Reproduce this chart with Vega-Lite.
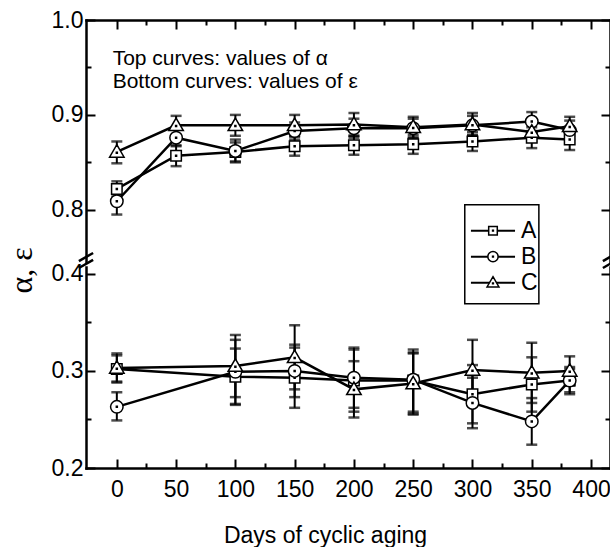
{
  "$schema": "https://vega.github.io/schema/vega-lite/v6.json",
  "background": "white",
  "padding": {"left": 5, "top": 9, "right": 0, "bottom": 0},
  "bounds": "flush",
  "spacing": 5,
  "config": {
    "view": {"stroke": null},
    "font": "Liberation Sans",
    "axis": {
      "domainColor": "black", "domainWidth": 2.5, "domainCap": "square",
      "tickColor": "black", "tickWidth": 2,
      "labelColor": "black", "labelFont": "Liberation Sans", "labelFontSize": 23,
      "grid": false, "titleColor": "black", "titleFontWeight": "normal",
      "labelOverlap": false, "labelFlush": false
    }
  },
  "datasets": {
    "alpha": [
      {"days": 0, "sample": "A", "v": 0.822, "lo": 0.814, "hi": 0.830},
      {"days": 50, "sample": "A", "v": 0.857, "lo": 0.846, "hi": 0.868},
      {"days": 100, "sample": "A", "v": 0.861, "lo": 0.851, "hi": 0.871},
      {"days": 150, "sample": "A", "v": 0.867, "lo": 0.857, "hi": 0.877},
      {"days": 200, "sample": "A", "v": 0.868, "lo": 0.858, "hi": 0.878},
      {"days": 250, "sample": "A", "v": 0.869, "lo": 0.859, "hi": 0.879},
      {"days": 300, "sample": "A", "v": 0.872, "lo": 0.862, "hi": 0.882},
      {"days": 350, "sample": "A", "v": 0.876, "lo": 0.865, "hi": 0.887},
      {"days": 382, "sample": "A", "v": 0.874, "lo": 0.863, "hi": 0.885},
      {"days": 0, "sample": "B", "v": 0.809, "lo": 0.795, "hi": 0.823},
      {"days": 50, "sample": "B", "v": 0.876, "lo": 0.867, "hi": 0.885},
      {"days": 100, "sample": "B", "v": 0.862, "lo": 0.850, "hi": 0.874},
      {"days": 150, "sample": "B", "v": 0.883, "lo": 0.874, "hi": 0.892},
      {"days": 200, "sample": "B", "v": 0.886, "lo": 0.876, "hi": 0.896},
      {"days": 250, "sample": "B", "v": 0.886, "lo": 0.876, "hi": 0.896},
      {"days": 300, "sample": "B", "v": 0.889, "lo": 0.879, "hi": 0.899},
      {"days": 350, "sample": "B", "v": 0.893, "lo": 0.883, "hi": 0.903},
      {"days": 382, "sample": "B", "v": 0.884, "lo": 0.874, "hi": 0.894},
      {"days": 0, "sample": "C", "v": 0.861, "lo": 0.849, "hi": 0.872},
      {"days": 50, "sample": "C", "v": 0.889, "lo": 0.879, "hi": 0.899},
      {"days": 100, "sample": "C", "v": 0.889, "lo": 0.878, "hi": 0.900},
      {"days": 150, "sample": "C", "v": 0.889, "lo": 0.878, "hi": 0.900},
      {"days": 200, "sample": "C", "v": 0.890, "lo": 0.878, "hi": 0.902},
      {"days": 250, "sample": "C", "v": 0.887, "lo": 0.876, "hi": 0.898},
      {"days": 300, "sample": "C", "v": 0.890, "lo": 0.878, "hi": 0.902},
      {"days": 350, "sample": "C", "v": 0.882, "lo": 0.872, "hi": 0.892},
      {"days": 382, "sample": "C", "v": 0.888, "lo": 0.878, "hi": 0.898}
    ],
    "eps": [
      {"days": 0, "sample": "A", "v": 0.302, "lo": 0.288, "hi": 0.316},
      {"days": 100, "sample": "A", "v": 0.294, "lo": 0.265, "hi": 0.323},
      {"days": 150, "sample": "A", "v": 0.293, "lo": 0.262, "hi": 0.324},
      {"days": 200, "sample": "A", "v": 0.290, "lo": 0.258, "hi": 0.322},
      {"days": 250, "sample": "A", "v": 0.290, "lo": 0.258, "hi": 0.322},
      {"days": 300, "sample": "A", "v": 0.276, "lo": 0.246, "hi": 0.306},
      {"days": 350, "sample": "A", "v": 0.286, "lo": 0.258, "hi": 0.314},
      {"days": 382, "sample": "A", "v": 0.290, "lo": 0.278, "hi": 0.302},
      {"days": 0, "sample": "B", "v": 0.263, "lo": 0.249, "hi": 0.278},
      {"days": 100, "sample": "B", "v": 0.299, "lo": 0.266, "hi": 0.332},
      {"days": 150, "sample": "B", "v": 0.300, "lo": 0.273, "hi": 0.327},
      {"days": 200, "sample": "B", "v": 0.293, "lo": 0.262, "hi": 0.324},
      {"days": 250, "sample": "B", "v": 0.291, "lo": 0.256, "hi": 0.318},
      {"days": 300, "sample": "B", "v": 0.267, "lo": 0.241, "hi": 0.293},
      {"days": 350, "sample": "B", "v": 0.248, "lo": 0.224, "hi": 0.272},
      {"days": 382, "sample": "B", "v": 0.290, "lo": 0.276, "hi": 0.304},
      {"days": 0, "sample": "C", "v": 0.303, "lo": 0.289, "hi": 0.318},
      {"days": 100, "sample": "C", "v": 0.305, "lo": 0.273, "hi": 0.337},
      {"days": 150, "sample": "C", "v": 0.314, "lo": 0.281, "hi": 0.347},
      {"days": 200, "sample": "C", "v": 0.281, "lo": 0.252, "hi": 0.310},
      {"days": 250, "sample": "C", "v": 0.287, "lo": 0.255, "hi": 0.319},
      {"days": 300, "sample": "C", "v": 0.301, "lo": 0.270, "hi": 0.332},
      {"days": 350, "sample": "C", "v": 0.298, "lo": 0.267, "hi": 0.329},
      {"days": 382, "sample": "C", "v": 0.300, "lo": 0.285, "hi": 0.315}
    ]
  },
  "vconcat": [
    {
      "width": 524,
      "height": 242,
      "data": {"name": "alpha"},
      "resolve": {"scale": {"y": "independent"}, "axis": {"x": "independent"}},
      "layer": [
        {
          "layer": [
            {
              "mark": {"type": "line", "color": "black", "strokeWidth": 2.5},
              "encoding": {
                "x": {"field": "days", "type": "quantitative", "scale": {"domain": [-26, 416], "nice": false, "zero": false},
                      "axis": {"orient": "top", "title": null, "labels": false, "ticks": false}},
                "y": {"field": "v", "type": "quantitative", "scale": {"domain": [0.745, 1.0], "nice": false, "zero": false},
                      "axis": {"orient": "left", "title": null, "labels": false, "ticks": false}},
                "detail": {"field": "sample"}
              }
            },
            {
              "mark": {
                "type": "errorbar",
                "ticks": {"size": 11, "thickness": 2.5, "color": "black"},
                "rule": {"strokeWidth": 2, "color": "black"}
              },
              "encoding": {
                "x": {"field": "days", "type": "quantitative", "scale": {"domain": [-26, 416], "nice": false, "zero": false},
                      "axis": {"orient": "top", "title": null, "labels": false, "ticks": false}},
                "y": {"field": "lo", "type": "quantitative", "scale": {"domain": [0.745, 1.0], "nice": false, "zero": false},
                      "axis": {"orient": "left", "title": null, "labels": false, "ticks": false}},
                "y2": {"field": "hi"},
                "detail": {"field": "sample"}
              }
            },
            {
              "mark": {"type": "point", "filled": true, "fill": "white", "stroke": "black", "strokeWidth": 1.5, "opacity": 1, "size": 625},
              "encoding": {
                "x": {"field": "days", "type": "quantitative", "scale": {"domain": [-26, 416], "nice": false, "zero": false},
                      "axis": {"orient": "top", "title": null, "labels": false, "ticks": false}},
                "y": {"field": "v", "type": "quantitative", "scale": {"domain": [0.745, 1.0], "nice": false, "zero": false},
                      "axis": {"orient": "left", "title": null, "labels": false, "ticks": false}},
                "shape": {
                  "field": "sample", "type": "nominal",
                  "scale": {
                    "domain": ["A", "B", "C"],
                    "range": [
                      "M-0.42,-0.42H0.42V0.42H-0.42ZM-0.04,-0.04H0.04V0.04H-0.04Z",
                      "M-0.5,0A0.5,0.5,0,1,1,0.5,0A0.5,0.5,0,1,1,-0.5,0ZM-0.04,-0.04H0.04V0.04H-0.04Z",
                      "M0,-0.58L0.58,0.42L-0.58,0.42ZM-0.04,0.02H0.04V0.1H-0.04Z"
                    ]
                  },
                  "legend": null
                }
              }
            },
            {
              "data": {"values": [{}]},
              "mark": {
                "type": "text",
                "text": ["Top curves: values of α", "Bottom curves: values of ε"],
                "align": "left", "baseline": "alphabetic",
                "fontSize": 21, "lineHeight": 23, "color": "black"
              },
              "encoding": {
                "x": {"datum": -3.5, "type": "quantitative", "scale": {"domain": [-26, 416], "nice": false, "zero": false},
                      "axis": {"orient": "top", "title": null, "labels": false, "ticks": false}},
                "y": {"datum": 0.953, "type": "quantitative", "scale": {"domain": [0.745, 1.0], "nice": false, "zero": false},
                      "axis": {"orient": "left", "title": null, "labels": false, "ticks": false}}
              }
            },
            {
              "data": {"values": [{}]},
              "mark": {"type": "rule", "color": "black", "strokeWidth": 2.5},
              "encoding": {
                "x": {"datum": -32, "type": "quantitative", "scale": {"domain": [-26, 416], "nice": false, "zero": false},
                      "axis": {"orient": "top", "title": null, "labels": false, "ticks": false}},
                "x2": {"datum": -20},
                "y": {"datum": 0.746, "type": "quantitative", "scale": {"domain": [0.745, 1.0], "nice": false, "zero": false},
                      "axis": {"orient": "left", "title": null, "labels": false, "ticks": false}},
                "y2": {"datum": 0.7545}
              }
            },
            {
              "data": {"values": [{}]},
              "mark": {"type": "rule", "color": "black", "strokeWidth": 2.5},
              "encoding": {
                "x": {"datum": 410, "type": "quantitative", "scale": {"domain": [-26, 416], "nice": false, "zero": false},
                      "axis": {"orient": "top", "title": null, "labels": false, "ticks": false}},
                "x2": {"datum": 422},
                "y": {"datum": 0.746, "type": "quantitative", "scale": {"domain": [0.745, 1.0], "nice": false, "zero": false},
                      "axis": {"orient": "left", "title": null, "labels": false, "ticks": false}},
                "y2": {"datum": 0.7545}
              }
            }
          ]
        },
        {
          "mark": {"type": "point", "opacity": 0},
          "encoding": {
            "x": {"field": "days", "type": "quantitative",
                  "axis": {"orient": "top", "offset": -9, "title": null, "labels": false, "domain": false, "ticks": true, "tickColor": "black", "tickWidth": 2, "tickOpacity": 1, "tickOffset": 0, "values": [0, 50, 100, 150, 200, 250, 300, 350, 400], "tickSize": 9}},
            "y": {"field": "v", "type": "quantitative", "scale": {"domain": [0.745, 1.0], "nice": false, "zero": false},
                  "axis": {"orient": "left", "offset": -9, "title": null, "domain": false, "ticks": true, "tickColor": "black", "tickWidth": 2, "tickOpacity": 1, "tickOffset": 0, "values": [0.8, 0.9, 1.0], "format": ".1f", "tickSize": 9, "labelPadding": 3}}
          }
        },
        {
          "mark": {"type": "point", "opacity": 0},
          "encoding": {
            "x": {"field": "days", "type": "quantitative",
                  "axis": {"orient": "top", "offset": -5, "title": null, "labels": false, "domain": false, "ticks": true, "tickColor": "black", "tickWidth": 2, "tickOpacity": 1, "tickOffset": 0, "values": [25, 75, 125, 175, 225, 275, 325, 375], "tickSize": 5}},
            "y": {"field": "v", "type": "quantitative", "scale": {"domain": [0.745, 1.0], "nice": false, "zero": false},
                  "axis": {"orient": "left", "offset": -5, "title": null, "labels": false, "domain": false, "ticks": true, "tickColor": "black", "tickWidth": 2, "tickOpacity": 1, "tickOffset": 0, "values": [0.85, 0.95], "tickSize": 5}}
          }
        },
        {
          "mark": {"type": "point", "opacity": 0},
          "encoding": {
            "x": {"field": "days", "type": "quantitative", "axis": null},
            "y": {"field": "v", "type": "quantitative", "scale": {"domain": [0.745, 1.0], "nice": false, "zero": false},
                  "axis": {"orient": "right", "title": null, "labels": false, "ticks": false}}
          }
        },
        {
          "mark": {"type": "point", "opacity": 0},
          "encoding": {
            "x": {"field": "days", "type": "quantitative", "axis": null},
            "y": {"field": "v", "type": "quantitative", "scale": {"domain": [0.745, 1.0], "nice": false, "zero": false},
                  "axis": {"orient": "right", "offset": -9, "title": null, "labels": false, "domain": false, "ticks": true, "tickColor": "black", "tickWidth": 2, "tickOpacity": 1, "tickOffset": 0, "values": [0.8, 0.9, 1.0], "tickSize": 9}}
          }
        },
        {
          "mark": {"type": "point", "opacity": 0},
          "encoding": {
            "x": {"field": "days", "type": "quantitative", "axis": null},
            "y": {"field": "v", "type": "quantitative", "scale": {"domain": [0.745, 1.0], "nice": false, "zero": false},
                  "axis": {"orient": "right", "offset": -5, "title": null, "labels": false, "domain": false, "ticks": true, "tickColor": "black", "tickWidth": 2, "tickOpacity": 1, "tickOffset": 0, "values": [0.85, 0.95], "tickSize": 5}}
          }
        },
        {
          "data": {"values": [{}]},
          "mark": {"type": "rect", "fill": "white", "stroke": "black", "strokeWidth": 1.5},
          "encoding": {
            "x": {"datum": 293.5, "type": "quantitative", "axis": null},
            "x2": {"datum": 356},
            "y": {"datum": 0.8053, "type": "quantitative", "scale": {"domain": [0.745, 1.0], "nice": false, "zero": false}, "axis": null},
            "y2": {"datum": 0.701}
          }
        },
        {
          "data": {"values": [{}]},
          "mark": {"type": "rule", "color": "black", "strokeWidth": 2},
          "encoding": {
            "x": {"datum": 298.7, "type": "quantitative", "axis": null},
            "x2": {"datum": 335.9},
            "y": {"datum": 0.778, "type": "quantitative", "scale": {"domain": [0.745, 1.0], "nice": false, "zero": false}, "axis": null}
          }
        },
        {
          "data": {"values": [{}]},
          "mark": {"type": "rule", "color": "black", "strokeWidth": 2},
          "encoding": {
            "x": {"datum": 298.7, "type": "quantitative", "axis": null},
            "x2": {"datum": 335.9},
            "y": {"datum": 0.7506, "type": "quantitative", "scale": {"domain": [0.745, 1.0], "nice": false, "zero": false}, "axis": null}
          }
        },
        {
          "data": {"values": [{}]},
          "mark": {"type": "rule", "color": "black", "strokeWidth": 2},
          "encoding": {
            "x": {"datum": 298.7, "type": "quantitative", "axis": null},
            "x2": {"datum": 335.9},
            "y": {"datum": 0.7232, "type": "quantitative", "scale": {"domain": [0.745, 1.0], "nice": false, "zero": false}, "axis": null}
          }
        },
        {
          "data": {"values": [{}]},
          "mark": {"type": "point", "filled": true, "fill": "white", "stroke": "black", "strokeWidth": 1.5, "opacity": 1, "size": 420},
          "encoding": {
            "x": {"datum": 317.3, "type": "quantitative", "axis": null},
            "y": {"datum": 0.778, "type": "quantitative", "scale": {"domain": [0.745, 1.0], "nice": false, "zero": false}, "axis": null},
            "shape": {"datum": "A", "type": "nominal", "legend": null}
          }
        },
        {
          "data": {"values": [{}]},
          "mark": {"type": "point", "filled": true, "fill": "white", "stroke": "black", "strokeWidth": 1.5, "opacity": 1, "size": 420},
          "encoding": {
            "x": {"datum": 317.3, "type": "quantitative", "axis": null},
            "y": {"datum": 0.7506, "type": "quantitative", "scale": {"domain": [0.745, 1.0], "nice": false, "zero": false}, "axis": null},
            "shape": {"datum": "B", "type": "nominal", "legend": null}
          }
        },
        {
          "data": {"values": [{}]},
          "mark": {"type": "point", "filled": true, "fill": "white", "stroke": "black", "strokeWidth": 1.5, "opacity": 1, "size": 420},
          "encoding": {
            "x": {"datum": 317.3, "type": "quantitative", "axis": null},
            "y": {"datum": 0.7232, "type": "quantitative", "scale": {"domain": [0.745, 1.0], "nice": false, "zero": false}, "axis": null},
            "shape": {"datum": "C", "type": "nominal", "legend": null}
          }
        },
        {
          "data": {"values": [{}]},
          "mark": {"type": "text", "text": ["A", "B", "C"], "align": "left", "baseline": "middle", "fontSize": 23, "lineHeight": 26, "color": "black"},
          "encoding": {
            "x": {"datum": 341, "type": "quantitative", "axis": null},
            "y": {"datum": 0.778, "type": "quantitative", "scale": {"domain": [0.745, 1.0], "nice": false, "zero": false}, "axis": null}
          }
        }
      ]
    },
    {
      "width": 524,
      "height": 201,
      "data": {"name": "eps"},
      "resolve": {"scale": {"y": "independent"}, "axis": {"x": "independent"}},
      "layer": [
        {
          "layer": [
            {
              "mark": {"type": "line", "color": "black", "strokeWidth": 2.5},
              "encoding": {
                "x": {"field": "days", "type": "quantitative", "scale": {"domain": [-26, 416], "nice": false, "zero": false},
                      "axis": {"orient": "bottom", "title": "Days of cyclic aging", "titleFontSize": 23, "titleX": 239, "titleY": 74, "titleAlign": "center", "titleBaseline": "alphabetic", "labels": false, "ticks": false}},
                "y": {"field": "v", "type": "quantitative", "scale": {"domain": [0.2, 0.407], "nice": false, "zero": false},
                      "axis": {"orient": "left", "title": "α, ε", "titleFont": "Liberation Serif", "titleFontSize": 32, "titleX": -65, "titleY": 3, "titleAngle": 270, "titleAlign": "center", "titleBaseline": "middle", "labels": false, "ticks": false}},
                "detail": {"field": "sample"}
              }
            },
            {
              "mark": {
                "type": "errorbar",
                "ticks": {"size": 11, "thickness": 2.5, "color": "black"},
                "rule": {"strokeWidth": 2, "color": "black"}
              },
              "encoding": {
                "x": {"field": "days", "type": "quantitative", "scale": {"domain": [-26, 416], "nice": false, "zero": false},
                      "axis": {"orient": "bottom", "title": "Days of cyclic aging", "titleFontSize": 23, "titleX": 239, "titleY": 74, "titleAlign": "center", "titleBaseline": "alphabetic", "labels": false, "ticks": false}},
                "y": {"field": "lo", "type": "quantitative", "scale": {"domain": [0.2, 0.407], "nice": false, "zero": false},
                      "axis": {"orient": "left", "title": "α, ε", "titleFont": "Liberation Serif", "titleFontSize": 32, "titleX": -65, "titleY": 3, "titleAngle": 270, "titleAlign": "center", "titleBaseline": "middle", "labels": false, "ticks": false}},
                "y2": {"field": "hi"},
                "detail": {"field": "sample"}
              }
            },
            {
              "mark": {"type": "point", "filled": true, "fill": "white", "stroke": "black", "strokeWidth": 1.5, "opacity": 1, "size": 625},
              "encoding": {
                "x": {"field": "days", "type": "quantitative", "scale": {"domain": [-26, 416], "nice": false, "zero": false},
                      "axis": {"orient": "bottom", "title": "Days of cyclic aging", "titleFontSize": 23, "titleX": 239, "titleY": 74, "titleAlign": "center", "titleBaseline": "alphabetic", "labels": false, "ticks": false}},
                "y": {"field": "v", "type": "quantitative", "scale": {"domain": [0.2, 0.407], "nice": false, "zero": false},
                      "axis": {"orient": "left", "title": "α, ε", "titleFont": "Liberation Serif", "titleFontSize": 32, "titleX": -65, "titleY": 3, "titleAngle": 270, "titleAlign": "center", "titleBaseline": "middle", "labels": false, "ticks": false}},
                "shape": {
                  "field": "sample", "type": "nominal",
                  "scale": {
                    "domain": ["A", "B", "C"],
                    "range": [
                      "M-0.42,-0.42H0.42V0.42H-0.42ZM-0.04,-0.04H0.04V0.04H-0.04Z",
                      "M-0.5,0A0.5,0.5,0,1,1,0.5,0A0.5,0.5,0,1,1,-0.5,0ZM-0.04,-0.04H0.04V0.04H-0.04Z",
                      "M0,-0.58L0.58,0.42L-0.58,0.42ZM-0.04,0.02H0.04V0.1H-0.04Z"
                    ]
                  },
                  "legend": null
                }
              }
            },
            {
              "data": {"values": [{}]},
              "mark": {"type": "rule", "color": "black", "strokeWidth": 2.5},
              "encoding": {
                "x": {"datum": -32, "type": "quantitative", "scale": {"domain": [-26, 416], "nice": false, "zero": false},
                      "axis": {"orient": "bottom", "title": "Days of cyclic aging", "titleFontSize": 23, "titleX": 239, "titleY": 74, "titleAlign": "center", "titleBaseline": "alphabetic", "labels": false, "ticks": false}},
                "x2": {"datum": -20},
                "y": {"datum": 0.406, "type": "quantitative", "scale": {"domain": [0.2, 0.407], "nice": false, "zero": false},
                      "axis": {"orient": "left", "title": "α, ε", "titleFont": "Liberation Serif", "titleFontSize": 32, "titleX": -65, "titleY": 3, "titleAngle": 270, "titleAlign": "center", "titleBaseline": "middle", "labels": false, "ticks": false}},
                "y2": {"datum": 0.4144}
              }
            },
            {
              "data": {"values": [{}]},
              "mark": {"type": "rule", "color": "black", "strokeWidth": 2.5},
              "encoding": {
                "x": {"datum": 410, "type": "quantitative", "scale": {"domain": [-26, 416], "nice": false, "zero": false},
                      "axis": {"orient": "bottom", "title": "Days of cyclic aging", "titleFontSize": 23, "titleX": 239, "titleY": 74, "titleAlign": "center", "titleBaseline": "alphabetic", "labels": false, "ticks": false}},
                "x2": {"datum": 422},
                "y": {"datum": 0.406, "type": "quantitative", "scale": {"domain": [0.2, 0.407], "nice": false, "zero": false},
                      "axis": {"orient": "left", "title": "α, ε", "titleFont": "Liberation Serif", "titleFontSize": 32, "titleX": -65, "titleY": 3, "titleAngle": 270, "titleAlign": "center", "titleBaseline": "middle", "labels": false, "ticks": false}},
                "y2": {"datum": 0.4144}
              }
            }
          ]
        },
        {
          "mark": {"type": "point", "opacity": 0},
          "encoding": {
            "x": {"field": "days", "type": "quantitative",
                  "axis": {"orient": "bottom", "offset": -9, "title": null, "domain": false, "ticks": true, "tickColor": "black", "tickWidth": 2, "tickOpacity": 1, "tickOffset": 0, "values": [0, 50, 100, 150, 200, 250, 300, 350, 400], "tickSize": 9, "labelPadding": 10}},
            "y": {"field": "v", "type": "quantitative", "scale": {"domain": [0.2, 0.407], "nice": false, "zero": false},
                  "axis": {"orient": "left", "offset": -9, "title": null, "domain": false, "ticks": true, "tickColor": "black", "tickWidth": 2, "tickOpacity": 1, "tickOffset": 0, "values": [0.2, 0.3, 0.4], "format": ".1f", "tickSize": 9, "labelPadding": 3}}
          }
        },
        {
          "mark": {"type": "point", "opacity": 0},
          "encoding": {
            "x": {"field": "days", "type": "quantitative",
                  "axis": {"orient": "bottom", "offset": -5, "title": null, "labels": false, "domain": false, "ticks": true, "tickColor": "black", "tickWidth": 2, "tickOpacity": 1, "tickOffset": 0, "values": [25, 75, 125, 175, 225, 275, 325, 375], "tickSize": 5}},
            "y": {"field": "v", "type": "quantitative", "scale": {"domain": [0.2, 0.407], "nice": false, "zero": false},
                  "axis": {"orient": "left", "offset": -5, "title": null, "labels": false, "domain": false, "ticks": true, "tickColor": "black", "tickWidth": 2, "tickOpacity": 1, "tickOffset": 0, "values": [0.25, 0.35], "tickSize": 5}}
          }
        },
        {
          "mark": {"type": "point", "opacity": 0},
          "encoding": {
            "x": {"field": "days", "type": "quantitative", "axis": null},
            "y": {"field": "v", "type": "quantitative", "scale": {"domain": [0.2, 0.407], "nice": false, "zero": false},
                  "axis": {"orient": "right", "title": null, "labels": false, "ticks": false}}
          }
        },
        {
          "mark": {"type": "point", "opacity": 0},
          "encoding": {
            "x": {"field": "days", "type": "quantitative", "axis": null},
            "y": {"field": "v", "type": "quantitative", "scale": {"domain": [0.2, 0.407], "nice": false, "zero": false},
                  "axis": {"orient": "right", "offset": -9, "title": null, "labels": false, "domain": false, "ticks": true, "tickColor": "black", "tickWidth": 2, "tickOpacity": 1, "tickOffset": 0, "values": [0.2, 0.3, 0.4], "tickSize": 9}}
          }
        },
        {
          "mark": {"type": "point", "opacity": 0},
          "encoding": {
            "x": {"field": "days", "type": "quantitative", "axis": null},
            "y": {"field": "v", "type": "quantitative", "scale": {"domain": [0.2, 0.407], "nice": false, "zero": false},
                  "axis": {"orient": "right", "offset": -5, "title": null, "labels": false, "domain": false, "ticks": true, "tickColor": "black", "tickWidth": 2, "tickOpacity": 1, "tickOffset": 0, "values": [0.25, 0.35], "tickSize": 5}}
          }
        }
      ]
    }
  ]
}
